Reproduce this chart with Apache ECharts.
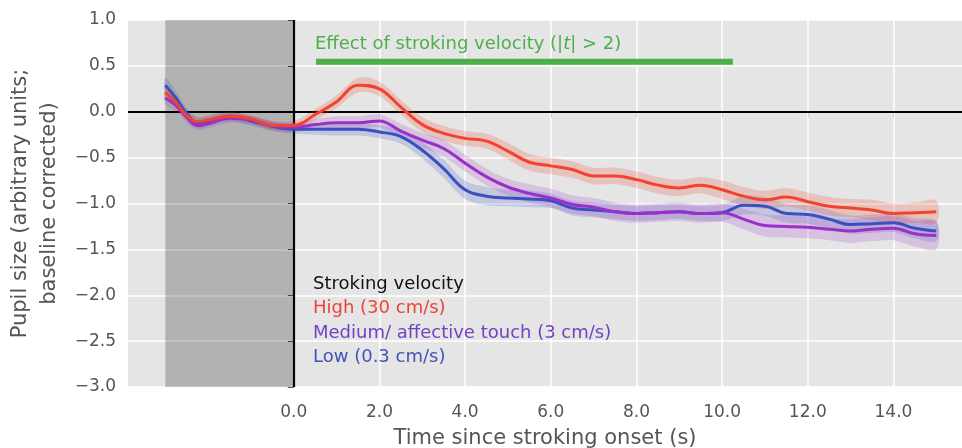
<!DOCTYPE html>
<html>
<head>
<meta charset="utf-8">
<script src="https://cdn.jsdelivr.net/npm/echarts@6/dist/echarts.min.js"></script>
<style>
  html, body { margin: 0; padding: 0; background: #fff; }
  #chart { width: 962px; height: 448px; }
</style>
</head>
<body>
<div id="chart"></div>
<script>
// time since stroking onset (s)
const time = [-3, -2.75, -2.5, -2.25, -2, -1.5, -1, -0.5, 0, 0.5, 1, 1.5, 2, 2.5, 3, 3.5, 4, 4.5, 5, 5.5,
  6, 6.5, 7, 7.5, 8, 8.5, 9, 9.5, 10, 10.5, 11, 11.5, 12, 12.5, 13, 13.5, 14, 14.5, 15]

// mean pupil size per stroking velocity
const highMean = [0.21, 0.10, -0.04, -0.11, -0.09, -0.05, -0.08, -0.15, -0.15, -0.03, 0.11, 0.29, 0.25, 0.05, -0.14, -0.235,
  -0.29, -0.32, -0.43, -0.55, -0.59, -0.63, -0.70, -0.70, -0.74, -0.80, -0.83, -0.80, -0.85, -0.92,
  -0.96, -0.93, -0.98, -1.03, -1.05, -1.07, -1.11, -1.10, -1.09]
const mediumMean = [0.15, 0.07, -0.06, -0.15, -0.13, -0.07, -0.09, -0.15, -0.17, -0.14, -0.12, -0.12, -0.10, -0.21, -0.31, -0.40,
  -0.56, -0.71, -0.82, -0.89, -0.94, -1.01, -1.04, -1.09, -1.11, -1.10, -1.09, -1.11, -1.10, -1.17,
  -1.24, -1.25, -1.26, -1.28, -1.30, -1.28, -1.27, -1.33, -1.35]
const lowMean = [0.29, 0.15, -0.02, -0.12, -0.10, -0.05, -0.10, -0.16, -0.19, -0.19, -0.19, -0.19, -0.22, -0.27, -0.42, -0.62,
  -0.85, -0.92, -0.94, -0.95, -0.97, -1.05, -1.07, -1.09, -1.11, -1.10, -1.09, -1.11, -1.10, -1.02,
  -1.03, -1.11, -1.12, -1.17, -1.23, -1.22, -1.21, -1.27, -1.30]

// half width of the shaded band around each mean
const highCi = [0.06, 0.05, 0.05, 0.05, 0.05, 0.04, 0.04, 0.05, 0.05, 0.06, 0.07, 0.08, 0.08, 0.08, 0.08, 0.08, 0.08, 0.08, 0.09, 0.09,
  0.09, 0.09, 0.09, 0.09, 0.09, 0.09, 0.09, 0.09, 0.10, 0.10, 0.10, 0.10, 0.10, 0.10, 0.10, 0.11, 0.11, 0.11, 0.12]
const mediumCi = [0.07, 0.06, 0.06, 0.05, 0.05, 0.05, 0.05, 0.05, 0.05, 0.06, 0.07, 0.07, 0.07, 0.08, 0.08, 0.09, 0.09, 0.09, 0.09, 0.10,
  0.10, 0.10, 0.10, 0.10, 0.10, 0.10, 0.10, 0.10, 0.10, 0.11, 0.12, 0.12, 0.12, 0.12, 0.13, 0.13, 0.13, 0.14, 0.15]
const lowCi = [0.08, 0.07, 0.06, 0.06, 0.05, 0.05, 0.05, 0.05, 0.05, 0.06, 0.07, 0.07, 0.07, 0.08, 0.09, 0.10, 0.10, 0.10, 0.09, 0.09,
  0.08, 0.08, 0.08, 0.08, 0.08, 0.08, 0.08, 0.08, 0.09, 0.10, 0.10, 0.10, 0.10, 0.10, 0.10, 0.10, 0.10, 0.11, 0.11]

const xTicks = [0, 2, 4, 6, 8, 10, 12, 14]
const xGridLines = [2, 4, 6, 8, 10, 12, 14]
const shadeSpan = [-3, 0]
const effectSpan = [0.52, 10.25]
const effectLevel = 0.545

const groups = [
  { name: 'Low (0.3 cm/s)', mean: lowMean, ci: lowCi, color: '#3c4fc0', band: 'rgba(60,79,192,0.2)', text: '#4354b8' },
  { name: 'Medium/ affective touch (3 cm/s)', mean: mediumMean, ci: mediumCi, color: '#9b30c8', band: 'rgba(155,48,200,0.2)', text: '#7440c4' },
  { name: 'High (30 cm/s)', mean: highMean, ci: highCi, color: '#f2432f', band: 'rgba(242,67,47,0.22)', text: '#ee4438' },
]

const FONT = 'DejaVu Sans'
const fmt = v => v.toFixed(1).replace('-', '\u2212')

// 置信带：用 custom 系列画一个平滑多边形（上界 + 反向下界）
const bandSeries = groups.map(g => {
  const rows = g.mean.map((m, k) => [time[k], m - g.ci[k], m + g.ci[k]])
  return {
    name: g.name + ' band',
    type: 'custom',
    data: rows,
    encode: { x: 0, y: [1, 2] },
    silent: true,
    z: 3,
    renderItem: (params, api) => {
      if (params.dataIndex !== 0) {
        return null
      }
      const upper = rows.map(r => api.coord([r[0], r[2]]))
      const lower = rows.map(r => api.coord([r[0], r[1]])).reverse()
      return {
        type: 'polygon',
        shape: { points: upper.concat(lower), smooth: 0.35 },
        style: { fill: g.band },
      }
    },
  }
})

const lineSeries = groups.map(g => ({
  name: g.name,
  type: 'line',
  data: g.mean.map((m, k) => [time[k], m]),
  symbol: 'none',
  smooth: 0.4,
  z: 4,
  lineStyle: { color: g.color, width: 3 },
}))

const effectSeries = {
  name: 'effect',
  type: 'line',
  data: effectSpan.map(t => [t, effectLevel]),
  symbol: 'none',
  z: 4,
  lineStyle: { color: '#4caf4a', width: 6, cap: 'butt' },
  markArea: {
    silent: true,
    z: 1,
    itemStyle: { color: 'rgba(0,0,0,0.22)' },
    data: [[{ xAxis: shadeSpan[0] }, { xAxis: shadeSpan[1] }]],
  },
  markLine: {
    silent: true,
    z: 2,
    symbol: 'none',
    label: { show: false },
    data: [
      ...xGridLines.map(x => ({ xAxis: x, lineStyle: { color: '#ffffff', width: 1.5, type: 'solid' } })),
      { yAxis: 0, lineStyle: { color: '#000000', width: 2.2, type: 'solid' } },
      { xAxis: 0, lineStyle: { color: '#000000', width: 2.2, type: 'solid' } },
    ],
  },
}

const legendRows = [{ text: 'Stroking velocity', color: '#111111' }, ...groups.slice().reverse().map(g => ({ text: g.name, color: g.text }))]

const chart = echarts.init(document.getElementById('chart'))
chart.setOption({
  animation: false,
  backgroundColor: '#ffffff',
  grid: {
    left: 128, right: 0, top: 20, bottom: 61,
    outerBoundsMode: 'none',
    show: true, backgroundColor: '#e5e5e5', borderWidth: 0,
  },
  xAxis: {
    type: 'value',
    min: -3.87,
    max: 15.6,
    name: 'Time since stroking onset (s)',
    nameLocation: 'middle',
    nameGap: 41,
    nameTextStyle: { fontFamily: FONT, fontSize: 21, color: '#555555' },
    axisLine: { show: false },
    splitLine: { show: false },
    axisTick: { show: true, customValues: xTicks, length: 6, lineStyle: { color: '#555555', width: 1 } },
    axisLabel: { customValues: xTicks, formatter: fmt, fontFamily: FONT, fontSize: 17, color: '#555555', margin: 17 },
  },
  yAxis: {
    type: 'value',
    min: -3,
    max: 1,
    interval: 0.5,
    name: 'Pupil size (arbitrary units;\nbaseline corrected)',
    nameLocation: 'middle',
    nameGap: 56,
    nameTextStyle: { fontFamily: FONT, fontSize: 21, lineHeight: 29, color: '#555555' },
    axisLine: { show: false },
    axisTick: { show: true, length: 6, lineStyle: { color: '#555555', width: 1 } },
    axisLabel: { formatter: fmt, fontFamily: FONT, fontSize: 17, color: '#555555', margin: 12 },
    splitLine: { show: true, lineStyle: { color: '#ffffff', width: 1.5 } },
  },
  graphic: [
    {
      type: 'text',
      left: 315,
      top: 35,
      z: 10,
      style: {
        text: '{a|Effect of stroking velocity (|}{i|t}{a|| > 2)}',
        rich: {
          a: { fontFamily: FONT, fontSize: 18, fill: '#4caf4a' },
          i: { fontFamily: FONT, fontSize: 18, fontStyle: 'italic', fill: '#4caf4a' },
        },
      },
    },
    ...legendRows.map((row, i) => ({
      type: 'text',
      left: 313,
      top: 275 + i * 24.5,
      z: 10,
      style: { text: row.text, fill: row.color, font: `18px "${FONT}"` },
    })),
  ],
  series: [effectSeries, ...bandSeries, ...lineSeries],
})
</script>
</body>
</html>
